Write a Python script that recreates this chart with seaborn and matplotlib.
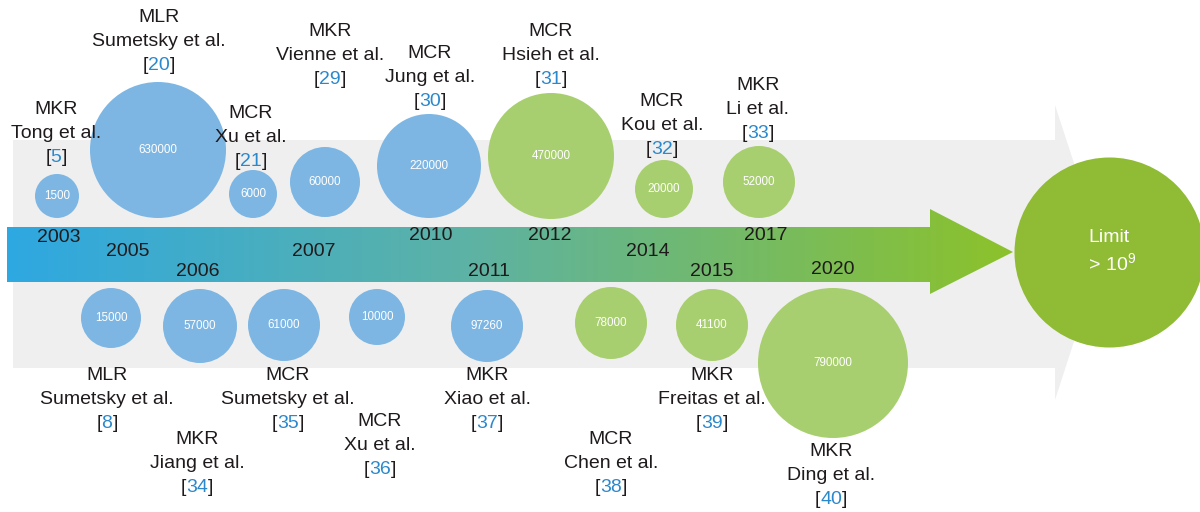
import numpy as np
import pandas as pd
import matplotlib
matplotlib.use("Agg")
import matplotlib.pyplot as plt
import seaborn as sns
from matplotlib.patches import Polygon
from matplotlib.colors import LinearSegmentedColormap

sns.set_theme(style="white")
plt.rcParams["font.family"] = ["Liberation Sans", "DejaVu Sans"]
plt.rcParams["mathtext.fontset"] = "custom"
plt.rcParams["mathtext.rm"] = "Liberation Sans"
plt.rcParams["mathtext.it"] = "Liberation Sans:italic"

# ---------------- data ----------------
years = [2003, 2005, 2006, 2007, 2010, 2012, 2014, 2017,
         2005, 2006, 2007, 2007, 2011, 2012, 2015, 2020]
q_values = [1500, 630000, 6000, 60000, 220000, 470000, 20000, 52000,
            15000, 57000, 61000, 10000, 97260, 78000, 41100, 790000]
kinds = ["MKR", "MLR", "MCR", "MKR", "MCR", "MCR", "MCR", "MKR",
         "MLR", "MKR", "MCR", "MCR", "MKR", "MCR", "MKR", "MKR"]
authors = ["Tong et al.", "Sumetsky et al.", "Xu et al.", "Vienne et al.",
           "Jung et al.", "Hsieh et al.", "Kou et al.", "Li et al.",
           "Sumetsky et al.", "Jiang et al.", "Sumetsky et al.", "Xu et al.",
           "Xiao et al.", "Chen et al.", "Freitas et al.", "Ding et al."]
refs = [5, 20, 21, 29, 30, 31, 32, 33, 8, 34, 35, 36, 37, 38, 39, 40]
year_labels = [2003, 2005, 2006, 2007, 2010, 2011, 2012, 2014, 2015, 2017, 2020]
limit_label = ["Limit", r"$>\,10^{9}$"]

# ---------------- layout (pixels) ----------------
bx = [57, 158, 253, 325, 429, 551, 664, 759, 111, 200, 284, 377, 487, 611, 712, 833]
by = [196, 150, 194, 182, 166, 156, 189, 182, 318, 326, 325, 317, 326, 323, 325, 363]
br = [22, 68, 24, 35, 52, 63, 29, 36, 30, 37, 36, 28, 36, 36, 36, 75]
lx = [56, 159, 251, 330, 430, 551, 662, 758, 107, 197, 288, 380, 487, 611, 712, 831]
ly = [110, 17, 113, 32, 54, 32, 102, 85, 375, 440, 375, 422, 375, 440, 375, 451]
yl_x = [59, 128, 198, 314, 431, 489, 550, 648, 712, 766, 833]
yl_y = [237, 252, 272, 252, 236, 272, 236, 252, 272, 236, 270]
LINE = 24

BLUE = "#7db6e3"
GREEN = "#a8cf6f"
TXT = "#1f1a1b"
REF = "#2b88cc"

W, H = 1200, 512
fig = plt.figure(figsize=(W / 100, H / 100), dpi=100)
ax = fig.add_axes([0, 0, 1, 1])

# background gray arrow
gray = Polygon([(13, 140), (1055, 140), (1055, 105), (1103, 252), (1055, 400),
                (1055, 368), (13, 368)], closed=True, fc="#efefef", ec="none", zorder=0)
ax.add_patch(gray)

# gradient arrow
arrow = Polygon([(7, 227), (930, 227), (930, 209), (1013, 252), (930, 294),
                 (930, 282), (7, 282)], closed=True, fc="none", ec="none", zorder=1)
ax.add_patch(arrow)
cmap = LinearSegmentedColormap.from_list(
    "grad", [(0.0, "#2ea8e2"), (0.45, "#5cb2a6"), (1.0, "#8cc22a")], N=1024)
grad = np.linspace(0, 1, 1006).reshape(1, -1)
im = ax.imshow(grad, cmap=cmap, extent=(7, 1013, 294, 209), aspect="auto",
               zorder=1, interpolation="nearest")
im.set_clip_path(arrow)

# bubbles
df = pd.DataFrame({
    "x": bx, "y": by, "r": br, "q": q_values, "year": years,
    "era": ["green" if y >= 2012 else "blue" for y in years],
})
sizes = (1.44 * df["r"]) ** 2
sns.scatterplot(data=df, x="x", y="y", hue="era",
                palette={"blue": BLUE, "green": GREEN},
                s=sizes, linewidth=0, legend=False, ax=ax, zorder=3)

# limit bubble
lim_df = pd.DataFrame({"x": [1109], "y": [252]})
sns.scatterplot(data=lim_df, x="x", y="y", color="#8fbb35", s=(1.44 * 95) ** 2,
                linewidth=0, legend=False, ax=ax, zorder=3)
ax.text(1109, 238, limit_label[0], color="white", fontsize=14, ha="center",
        va="center", zorder=5)
ax.text(1111, 263, limit_label[1], color="white", fontsize=14, ha="center",
        va="center", zorder=5)

# values inside bubbles
for x, y, q in zip(bx, by, q_values):
    ax.text(x, y, str(q), color="white", fontsize=8.4, ha="center", va="center", zorder=5)

# labels
for x, y, k, a, rf in zip(lx, ly, kinds, authors, refs):
    ax.text(x, y, k, color=TXT, fontsize=14, ha="center", va="center", zorder=5)
    ax.text(x, y + LINE, a, color=TXT, fontsize=14, ha="center", va="center", zorder=5)
    t = ax.text(x, y + 2 * LINE, str(rf), color=REF, fontsize=14, ha="center",
                va="center", zorder=5)
    ax.annotate("[", xy=(0, 0), xycoords=t, ha="right", va="bottom",
                color=TXT, fontsize=14, zorder=5)
    ax.annotate("]", xy=(1, 0), xycoords=t, ha="left", va="bottom",
                color=TXT, fontsize=14, zorder=5)

# year labels
for x, y, yr in zip(yl_x, yl_y, year_labels):
    ax.text(x, y, str(yr), color=TXT, fontsize=14, ha="center", va="center", zorder=5)

ax.set_xlim(0, W)
ax.set_ylim(H, 0)
ax.axis("off")
fig.savefig("out.png", dpi=100)
